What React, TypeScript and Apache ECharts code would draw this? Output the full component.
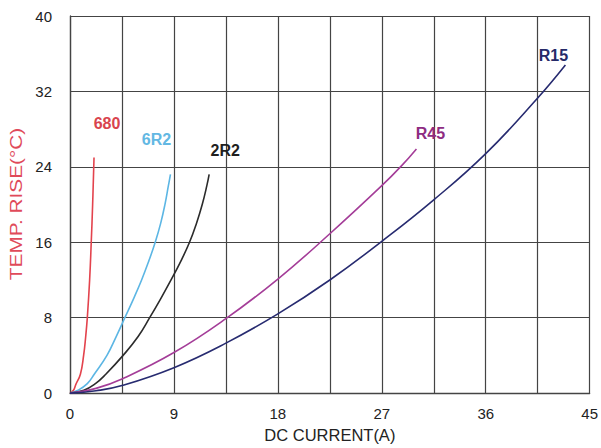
import React, { useEffect, useRef } from "react";
import * as echarts from "echarts";

const xTicks = [0, 9, 18, 27, 36, 45];
const yTicks = [0, 8, 16, 24, 32, 40];

const seriesNames = ["680", "6R2", "2R2", "R45", "R15"];
const xTitle = "DC CURRENT(A)";
const yTitle = "TEMP. RISE(°C)";

const s680: [number, number][] = [
  [0, 0], [0.3, 0.3], [0.5, 0.9], [0.9, 2], [1.18, 4], [1.36, 6], [1.5, 8],
  [1.7, 12], [1.84, 16], [1.96, 20], [2.08, 25],
];
const s6R2: [number, number][] = [
  [0, 0], [0.7, 0.3], [1.5, 1], [2.1, 2], [3.2, 4], [4.0, 6], [4.75, 8],
  [5.5, 10], [6.2, 12], [6.82, 14], [7.38, 16], [7.85, 18], [8.22, 20],
  [8.52, 22], [8.7, 23.2],
];
const s2R2: [number, number][] = [
  [0, 0], [1.2, 0.3], [2.2, 1], [3.1, 2], [4.6, 4], [5.9, 6], [6.9, 8],
  [7.85, 10], [8.75, 12], [9.6, 14], [10.35, 16], [10.95, 18], [11.45, 20],
  [11.85, 22], [12.05, 23.2],
];
const sR45: [number, number][] = [
  [0, 0], [2.25, 0.5], [4.5, 1.5], [9, 4.3], [13.5, 7.9], [18, 12.1],
  [22.5, 16.9], [27, 22.0], [28.7, 24.1], [30, 25.9],
];
const sR15: [number, number][] = [
  [0, 0], [2.25, 0.25], [4.5, 0.8], [9, 2.7], [13.5, 5.3], [18, 8.4],
  [22.5, 12], [27, 16.1], [31.5, 20.5], [36, 25.4], [40.5, 31.3], [42.9, 34.8],
];

const allData = [s680, s6R2, s2R2, sR45, sR15];
const lineColors = ["#e3434d", "#5cb6e4", "#2b2b2b", "#a43d98", "#272b70"];
const labelColors = ["#d9444e", "#63b8e3", "#1f1f1f", "#8e2c82", "#252a68"];
const labelOffsets: [number, number][] = [
  [13, -20], [-14, -21], [16, -10], [14, -2], [-12, 4],
];

export default function App() {
  const ref = useRef<HTMLDivElement>(null);
  useEffect(() => {
    if (!ref.current) return;
    const chart = echarts.init(ref.current, undefined, { renderer: "svg" });
    const font = "'Liberation Sans', Arial, sans-serif";
    chart.setOption({
      animation: false,
      backgroundColor: "#ffffff",
      grid: { left: 70, right: 10, top: 16, bottom: 48, containLabel: false },
      graphic: [
        {
          type: "text",
          x: 16,
          y: 204,
          rotation: Math.PI / 2,
          scaleX: 1.3,
          style: {
            text: yTitle,
            fill: "#e04a5a",
            font: "16px 'Liberation Sans', Arial, sans-serif",
            textAlign: "center",
            textVerticalAlign: "middle",
          },
        },
      ],
      xAxis: {
        type: "value",
        min: 0,
        max: 45,
        interval: 4.5,
        name: xTitle,
        nameLocation: "middle",
        nameGap: 26,
        nameTextStyle: { fontFamily: font, fontSize: 16.5, color: "#222" },
        axisLine: { show: true, lineStyle: { color: "#444", width: 1.3 } },
        axisTick: { show: false },
        axisLabel: {
          fontFamily: font,
          fontSize: 15,
          color: "#222",
          margin: 13,
          formatter: (v: number) => {
            const r = Math.round(v);
            return Math.abs(v - r) < 1e-6 && xTicks.indexOf(r) >= 0 ? String(r) : "";
          },
        },
        splitLine: { show: true, lineStyle: { color: "#444", width: 1.2 } },
      },
      yAxis: {
        type: "value",
        min: 0,
        max: 40,
        interval: 8,
        axisLine: { show: true, lineStyle: { color: "#444", width: 1.3 } },
        axisTick: { show: false },
        axisLabel: {
          fontFamily: font,
          fontSize: 15,
          color: "#222",
          margin: 18,
          formatter: (v: number) => (yTicks.indexOf(v) >= 0 ? String(v) : ""),
        },
        splitLine: { show: true, lineStyle: { color: "#444", width: 1.2 } },
      },
      series: allData.map((d, i) => ({
        name: seriesNames[i],
        type: "line",
        data: d,
        smooth: 0.45,
        showSymbol: false,
        lineStyle: { color: lineColors[i], width: 1.6 },
        itemStyle: { color: lineColors[i] },
        markPoint: {
          symbol: "circle",
          symbolSize: 1,
          itemStyle: { color: "rgba(0,0,0,0)" },
          label: {
            show: true,
            position: "top",
            formatter: seriesNames[i],
            offset: labelOffsets[i],
            color: labelColors[i],
            fontFamily: font,
            fontSize: 16,
            fontWeight: "bold",
          },
          data: [{ coord: d[d.length - 1] }],
        },
      })),
    });
    return () => chart.dispose();
  }, []);
  return (
    <div
      ref={ref}
      style={{ position: "fixed", left: 0, top: 0, width: 601, height: 448 }}
    />
  );
}
